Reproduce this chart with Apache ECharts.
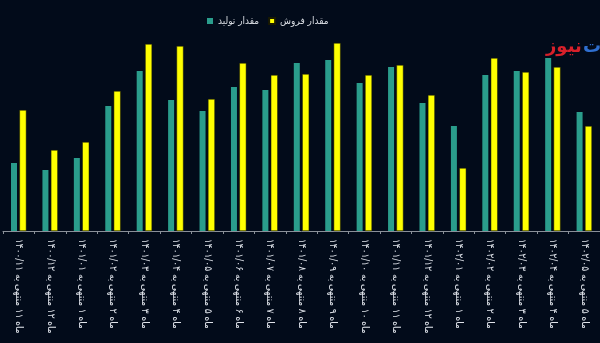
<!DOCTYPE html>
<html>
<head>
<meta charset="utf-8">
<script src="https://cdn.jsdelivr.net/npm/echarts@6/dist/echarts.min.js"></script>
<style>
html,body{margin:0;padding:0;background:#020b1a;}
#c{width:600px;height:343px;}
</style>
</head>
<body>
<div id="c"></div>
<script>
var categories = [
  'ماه ۱۱ منتهی به ۱۴۰۰/۱۱',
  'ماه ۱۲ منتهی به ۱۴۰۰/۱۲',
  'ماه ۱ منتهی به ۱۴۰۱/۰۱',
  'ماه ۲ منتهی به ۱۴۰۱/۰۲',
  'ماه ۳ منتهی به ۱۴۰۱/۰۳',
  'ماه ۴ منتهی به ۱۴۰۱/۰۴',
  'ماه ۵ منتهی به ۱۴۰۱/۰۵',
  'ماه ۶ منتهی به ۱۴۰۱/۰۶',
  'ماه ۷ منتهی به ۱۴۰۱/۰۷',
  'ماه ۸ منتهی به ۱۴۰۱/۰۸',
  'ماه ۹ منتهی به ۱۴۰۱/۰۹',
  'ماه ۱۰ منتهی به ۱۴۰۱/۱۰',
  'ماه ۱۱ منتهی به ۱۴۰۱/۱۱',
  'ماه ۱۲ منتهی به ۱۴۰۱/۱۲',
  'ماه ۱ منتهی به ۱۴۰۲/۰۱',
  'ماه ۲ منتهی به ۱۴۰۲/۰۲',
  'ماه ۳ منتهی به ۱۴۰۲/۰۳',
  'ماه ۴ منتهی به ۱۴۰۲/۰۴',
  'ماه ۵ منتهی به ۱۴۰۲/۰۵'
];
var production = [68, 61, 73, 125, 160, 131, 120, 144, 141, 168, 171, 148, 164, 128, 105, 156, 160, 173, 119];
var sales = [121, 81, 89, 140, 187, 185, 132, 168, 156, 157, 188, 156, 166, 136, 63, 173, 159, 164, 105];
var seriesNames = ['مقدار تولید', 'مقدار فروش'];

var FONT = '"DejaVu Sans Condensed", "DejaVu Sans", sans-serif';
var chart = echarts.init(document.getElementById('c'));
chart.setOption({
  backgroundColor: '#020b1a',
  animation: false,
  textStyle: {fontFamily: FONT},
  legend: {
    data: seriesNames,
    left: 202,
    top: 11,
    icon: 'rect',
    itemWidth: 6,
    itemHeight: 6,
    itemGap: 9,
    textStyle: {color: '#d8dce2', fontSize: 10, fontFamily: FONT}
  },
  graphic: [
    {type: 'text', left: 583, top: 38, style: {text: 'ت', fill: '#2f6fd0', font: 'bold 18px "DejaVu Sans"'}},
    {type: 'text', left: 546, top: 38, style: {text: 'نیوز', fill: '#d8202a', font: 'bold 18px "DejaVu Sans"'}}
  ],
  grid: {left: 3, top: 31, width: 599, height: 200, containLabel: false},
  xAxis: {
    type: 'category',
    data: categories,
    axisLine: {show: true, lineStyle: {color: '#8a9099', width: 1}},
    axisTick: {show: true, length: 3, lineStyle: {color: '#8a9099'}},
    axisLabel: {
      rotate: -90,
      interval: 0,
      margin: 8,
      color: '#dfe3ea',
      fontSize: 10,
      fontFamily: FONT
    }
  },
  yAxis: {
    type: 'value',
    min: 0,
    max: 200,
    show: false,
    splitLine: {show: false}
  },
  series: [
    {
      name: seriesNames[0],
      type: 'bar',
      data: production,
      barWidth: 6,
      barGap: '40%',
      itemStyle: {color: '#2a9d8c'}
    },
    {
      name: seriesNames[1],
      type: 'bar',
      data: sales,
      barWidth: 7,
      itemStyle: {color: '#ffff00', borderColor: '#1a1a00', borderWidth: 0.5}
    }
  ]
});
</script>
</body>
</html>
